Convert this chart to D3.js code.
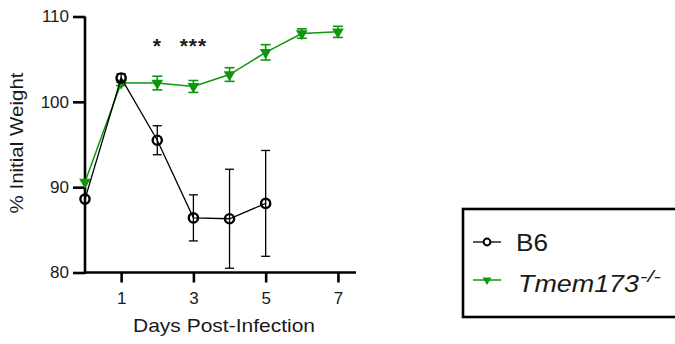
<!DOCTYPE html>
<html>
<head>
<meta charset="utf-8">
<script src="https://cdn.jsdelivr.net/npm/d3@7"></script>
<style>
  html, body { margin: 0; padding: 0; background: #fff; }
  svg { display: block; font-family: Arial, "Liberation Sans", sans-serif; }
</style>
</head>
<body>
<svg id="chart" width="675" height="344"></svg>
<script>
// Body weight after infection, mean ± SEM, per genotype
const b6Days = [0, 1, 2, 3, 4, 5];
const b6Mean = [88.6, 102.8, 95.5, 86.4, 86.3, 88.1];
const b6Err  = [0, 0.5, 1.7, 2.7, 5.8, 6.2];

const koDays = [0, 1, 2, 3, 4, 5, 6, 7];
const koMean = [90.6, 102.2, 102.2, 101.8, 103.2, 105.8, 108.0, 108.2];
const koErr  = [0, 0.3, 0.8, 0.7, 0.8, 0.9, 0.55, 0.65];

const xTicks = [1, 3, 5, 7];
const yTicks = [80, 90, 100, 110];

// significance marks above the curves
const sigDays   = [2, 3];
const sigLabels = ["*", "***"];

const seriesNames = ["B6", "Tmem173"];

const GREEN = "#0f960f";
const INK = "#1a1a1a";
const svg = d3.select("#chart");

const x = d3.scaleLinear().domain([0, 7.5]).range([85, 356]);
const y = d3.scaleLinear().domain([80, 110]).range([272.5, 16.5]);

// Axes
const xAxis = svg.append("g")
  .attr("transform", `translate(0,${y(80)})`)
  .call(d3.axisBottom(x).tickValues(xTicks).tickSize(10).tickPadding(9).tickFormat(d3.format("d")));
const yAxis = svg.append("g")
  .attr("transform", `translate(${x(0)},0)`)
  .call(d3.axisLeft(y).tickValues(yTicks).tickSize(12).tickPadding(4).tickSizeOuter(0));

[xAxis, yAxis].forEach(g => {
  g.select(".domain").attr("stroke", "#000").attr("stroke-width", 2.6);
  g.selectAll(".tick line").attr("stroke", "#000").attr("stroke-width", 2.6);
  g.selectAll("text").attr("font-size", 17).attr("fill", INK)
    .attr("font-family", "Arial, 'Liberation Sans', sans-serif");
});
xAxis.select(".domain").attr("d", `M${x(0)},0H${x(7.5)}`);
yAxis.select(".domain").attr("d", `M0,${y(110)}V${y(80) + 1.3}`);

// Axis titles
svg.append("text")
  .attr("x", 133).attr("y", 332)
  .attr("font-size", 18.5).attr("fill", INK)
  .attr("textLength", 182).attr("lengthAdjust", "spacingAndGlyphs")
  .text("Days Post-Infection");
svg.append("text")
  .attr("transform", `translate(23,213.5) rotate(-90)`)
  .attr("font-size", 17.5).attr("fill", INK)
  .attr("textLength", 141).attr("lengthAdjust", "spacingAndGlyphs")
  .text("% Initial Weight");

// Significance stars
svg.selectAll("text.sig").data(sigDays).join("text")
  .attr("class", "sig")
  .attr("x", d => x(d))
  .attr("y", 53)
  .attr("text-anchor", "middle")
  .attr("font-size", 21).attr("font-weight", "bold").attr("fill", INK)
  .attr("letter-spacing", 1)
  .text((d, i) => sigLabels[i]);

function errorBars(g, xs, ms, es, color, cap, width) {
  const data = xs.map((d, i) => ({ d, m: ms[i], e: es[i] })).filter(p => p.e > 0);
  const eb = g.selectAll("g.eb").data(data).join("g").attr("class", "eb")
    .attr("stroke", color).attr("stroke-width", width);
  eb.append("line")
    .attr("x1", p => x(p.d)).attr("x2", p => x(p.d))
    .attr("y1", p => y(p.m + p.e)).attr("y2", p => y(p.m - p.e));
  eb.append("line")
    .attr("x1", p => x(p.d) - cap).attr("x2", p => x(p.d) + cap)
    .attr("y1", p => y(p.m + p.e)).attr("y2", p => y(p.m + p.e));
  eb.append("line")
    .attr("x1", p => x(p.d) - cap).attr("x2", p => x(p.d) + cap)
    .attr("y1", p => y(p.m - p.e)).attr("y2", p => y(p.m - p.e));
}

const tri = d3.symbol().type(d3.symbolTriangle).size(60);

// Tmem173-/- series
const ko = svg.append("g");
errorBars(ko, koDays, koMean, koErr, GREEN, 5, 1.6);
ko.append("path")
  .datum(koDays.map((d, i) => [d, koMean[i]]))
  .attr("fill", "none").attr("stroke", GREEN).attr("stroke-width", 1.5)
  .attr("d", d3.line().x(p => x(p[0])).y(p => y(p[1])));
ko.selectAll("path.pt").data(koDays).join("path")
  .attr("class", "pt")
  .attr("transform", (d, i) => `translate(${x(d)},${y(koMean[i])}) rotate(180)`)
  .attr("d", tri)
  .attr("fill", GREEN);

// B6 series
const b6 = svg.append("g");
errorBars(b6, b6Days, b6Mean, b6Err, "#000", 4.5, 1.3);
b6.append("path")
  .datum(b6Days.map((d, i) => [d, b6Mean[i]]))
  .attr("fill", "none").attr("stroke", "#000").attr("stroke-width", 1.3)
  .attr("d", d3.line().x(p => x(p[0])).y(p => y(p[1])));
b6.selectAll("circle").data(b6Days).join("circle")
  .attr("cx", d => x(d)).attr("cy", (d, i) => y(b6Mean[i]))
  .attr("r", 4.6)
  .attr("fill", "none")
  .attr("stroke", "#000").attr("stroke-width", 2.4);

// Legend
const lg = svg.append("g");
lg.append("rect")
  .attr("x", 463).attr("y", 209).attr("width", 240).attr("height", 108)
  .attr("fill", "#fff").attr("stroke", "#000").attr("stroke-width", 2.6);

lg.append("line").attr("x1", 473).attr("x2", 501).attr("y1", 242).attr("y2", 242)
  .attr("stroke", "#000").attr("stroke-width", 1.3);
lg.append("circle").attr("cx", 487).attr("cy", 242).attr("r", 3.4)
  .attr("fill", "#fff").attr("stroke", "#000").attr("stroke-width", 2);
lg.append("text").attr("x", 516).attr("y", 250.5)
  .attr("font-size", 24).attr("fill", INK)
  .attr("textLength", 32).attr("lengthAdjust", "spacingAndGlyphs")
  .text(seriesNames[0]);

lg.append("line").attr("x1", 473).attr("x2", 501).attr("y1", 280).attr("y2", 280)
  .attr("stroke", GREEN).attr("stroke-width", 1.5);
lg.append("path")
  .attr("transform", "translate(487,280) rotate(180)")
  .attr("d", d3.symbol().type(d3.symbolTriangle).size(34))
  .attr("fill", GREEN);
lg.append("text").attr("x", 518).attr("y", 292)
  .attr("font-size", 24).attr("fill", INK).attr("font-style", "italic")
  .attr("textLength", 121).attr("lengthAdjust", "spacingAndGlyphs")
  .text(seriesNames[1]);
lg.append("text").attr("x", 640).attr("y", 282)
  .attr("font-size", 16).attr("fill", INK).attr("font-style", "italic")
  .attr("textLength", 21).attr("lengthAdjust", "spacingAndGlyphs")
  .text("-/-");
</script>
</body>
</html>
